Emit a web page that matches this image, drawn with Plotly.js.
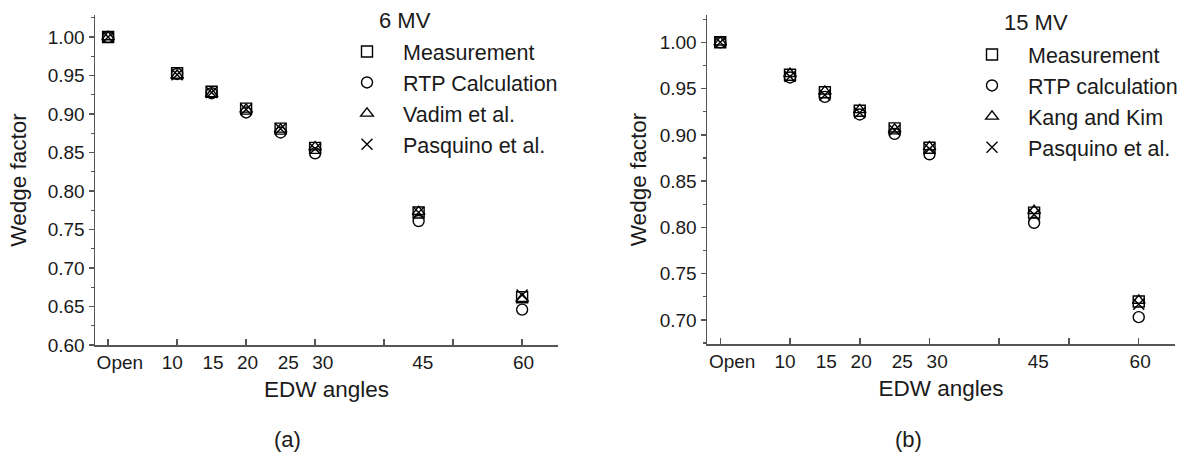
<!DOCTYPE html>
<html>
<head>
<meta charset="utf-8">
<script src="https://cdn.plot.ly/plotly-3.0.1.min.js"></script>
<style>html,body{margin:0;padding:0;background:#fff;}#chart{width:1197px;height:454px;}</style>
</head>
<body>
<div id="chart"></div>
<script>
// ---- data ----
const angles = [0, 10, 15, 20, 25, 30, 45, 60];
const xTickVals = [0, 10, 20, 30, 40, 50, 60];
const xLabelPos = [1.7, 9.3, 15.2, 20.2, 26.1, 31.1, 45.6, 60.2];
const xLabelText = ['Open', '10', '15', '20', '25', '30', '45', '60'];

const names6 = ['Measurement', 'RTP Calculation', 'Vadim et al.', 'Pasquino et al.'];
const meas6  = [1.000, 0.953, 0.929, 0.907, 0.881, 0.856, 0.772, 0.662];
const rtp6   = [1.000, 0.952, 0.927, 0.902, 0.876, 0.849, 0.761, 0.646];
const vadim6 = [1.000, 0.950, 0.926, 0.906, 0.880, 0.857, 0.773, 0.660];
const pasq6  = [1.000, 0.951, 0.928, 0.906, 0.881, 0.855, 0.772, 0.665];

const names15 = ['Measurement', 'RTP calculation', 'Kang and Kim', 'Pasquino et al.'];
const meas15 = [1.000, 0.965, 0.946, 0.926, 0.907, 0.886, 0.816, 0.720];
const rtp15  = [1.000, 0.962, 0.941, 0.922, 0.901, 0.879, 0.805, 0.703];
const kang15 = [1.000, 0.966, 0.947, 0.927, 0.906, 0.887, 0.818, 0.721];
const pasq15 = [1.000, 0.963, 0.943, 0.924, 0.905, 0.885, 0.814, 0.717];

// ---- styles ----
const FONT = 'Liberation Sans, Arial, sans-serif';
const TXT = '#1a1a1a';
const AX = '#555';
const symbols = ['square-open', 'circle-open', 'triangle-up-open', 'x-thin-open'];

function mk(x, y, name, sym, xa, ya, leg) {
  return {
    x: x, y: y, name: name, type: 'scatter', mode: 'markers',
    xaxis: xa, yaxis: ya, legend: leg,
    marker: {symbol: sym, size: 11, color: '#000', line: {color: '#000', width: 1.4}}
  };
}

const series6 = [meas6, rtp6, vadim6, pasq6];
const series15 = [meas15, rtp15, kang15, pasq15];
const traces = [];
series6.forEach((s, i) => traces.push(mk(angles, s, names6[i], symbols[i], 'x', 'y', 'legend')));
series15.forEach((s, i) => traces.push(mk(angles, s, names15[i], symbols[i], 'x2', 'y2', 'legend2')));
traces.push({x: [], y: [], xaxis: 'x3', yaxis: 'y', showlegend: false, type: 'scatter'});
traces.push({x: [], y: [], xaxis: 'x4', yaxis: 'y2', showlegend: false, type: 'scatter'});

const W = 1197, H = 454;
const px = v => v / W;
const py = v => (H - v) / H;

function baseX(dom, yName) {
  return {
    domain: dom, anchor: yName, range: [-1.9, 65.2], showline: true, linecolor: AX, linewidth: 1.5,
    ticks: 'inside', ticklen: 6, tickwidth: 1.5, tickcolor: AX, tickmode: 'array', tickvals: xTickVals,
    showticklabels: false, showgrid: false, zeroline: false, fixedrange: true
  };
}
function labelX(base, yName) {
  return {
    overlaying: base, anchor: yName, side: 'bottom', range: [-1.9, 65.2], showline: false,
    ticks: '', tickmode: 'array', tickvals: xLabelPos, ticktext: xLabelText, ticklabelstandoff: 4,
    tickfont: {family: FONT, size: 19, color: TXT}, showgrid: false, zeroline: false,
    title: {text: 'EDW angles', font: {family: FONT, size: 22.5, color: TXT}, standoff: 9}
  };
}
function yAx(dom, xName, range, tickvals, standoff) {
  return {
    domain: dom, anchor: xName, range: range, showline: true, linecolor: AX, linewidth: 1.5,
    ticks: 'outside', ticklen: 5, tickwidth: 1.5, tickcolor: AX, tickmode: 'array', tickvals: tickvals,
    tickformat: '.2f', tickfont: {family: FONT, size: 19, color: TXT},
    minor: {ticks: 'outside', ticklen: 3, tickwidth: 1.2, tickcolor: AX, dtick: 0.025, tick0: 0},
    showgrid: false, zeroline: false,
    title: {text: 'Wedge factor', font: {family: FONT, size: 22.5, color: TXT}, standoff: standoff}
  };
}

const yTicks6 = [0.60, 0.65, 0.70, 0.75, 0.80, 0.85, 0.90, 0.95, 1.00];
const yTicks15 = [0.70, 0.75, 0.80, 0.85, 0.90, 0.95, 1.00];

function legendCfg(xLeft, yTop) {
  return {
    x: px(xLeft), xanchor: 'left', y: py(yTop), yanchor: 'top', bgcolor: 'rgba(0,0,0,0)',
    borderwidth: 0, font: {family: FONT, size: 21.5, color: TXT}, itemwidth: 62,
    traceorder: 'normal'
  };
}

const layout = {
  width: W, height: H, margin: {l: 0, r: 0, t: 0, b: 0},
  paper_bgcolor: '#fff', plot_bgcolor: '#fff', font: {family: FONT, color: TXT},
  showlegend: true,
  xaxis: baseX([px(95), px(558)], 'y'),
  xaxis3: labelX('x', 'y'),
  yaxis: yAx([py(345), py(15)], 'x', [0.60, 1.0286], yTicks6, 15),
  xaxis2: baseX([px(707), px(1175)], 'y2'),
  xaxis4: labelX('x2', 'y2'),
  yaxis2: yAx([py(344), py(15)], 'x2', [0.674, 1.0295], yTicks15, 7),
  legend: legendCfg(331, 31),
  legend2: legendCfg(956, 34),
  annotations: [
    {text: '6 MV', x: px(377), y: py(20), xref: 'paper', yref: 'paper', xanchor: 'left', yanchor: 'middle', showarrow: false, font: {family: FONT, size: 22, color: TXT}},
    {text: '15 MV', x: px(1002), y: py(23), xref: 'paper', yref: 'paper', xanchor: 'left', yanchor: 'middle', showarrow: false, font: {family: FONT, size: 22, color: TXT}},
    {text: '(a)', x: px(287), y: py(439), xref: 'paper', yref: 'paper', xanchor: 'center', yanchor: 'middle', showarrow: false, font: {family: FONT, size: 22, color: TXT}},
    {text: '(b)', x: px(908), y: py(439), xref: 'paper', yref: 'paper', xanchor: 'center', yanchor: 'middle', showarrow: false, font: {family: FONT, size: 22, color: TXT}}
  ]
};

Plotly.newPlot('chart', traces, layout, {staticPlot: true, displayModeBar: false});
</script>
</body>
</html>
